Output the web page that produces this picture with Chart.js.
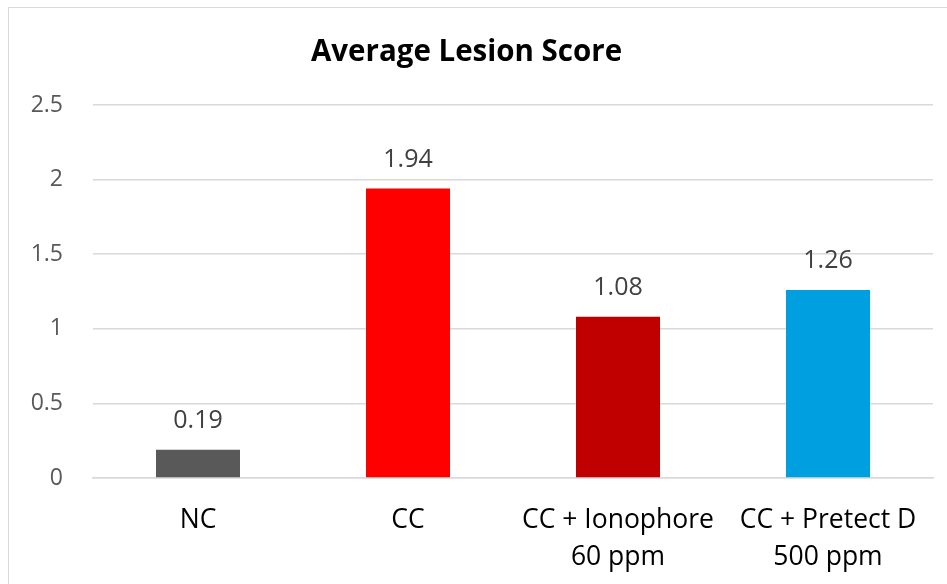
<!DOCTYPE html>
<html>
<head>
<meta charset="utf-8">
<script src="https://cdn.jsdelivr.net/npm/chart.js@4.4.1/dist/chart.umd.min.js"></script>
<style>
  html, body { margin: 0; padding: 0; background: #ffffff; }
  #wrap { position: relative; width: 947px; height: 584px; overflow: hidden; }
  #frame { position: absolute; left: 8px; top: 7px; width: 960px; height: 600px;
           border-left: 1.5px solid #d9d9d9; border-top: 1.5px solid #d9d9d9; box-sizing: border-box; }
  canvas { position: absolute; left: 0; top: 0; }
</style>
</head>
<body>
<div id="wrap">
  <div id="frame"></div>
  <canvas id="c" width="947" height="584"></canvas>
</div>
<script>
// ---- data ----
const categories = [["NC"], ["CC"], ["CC + Ionophore", "60 ppm"], ["CC + Pretect D", "500 ppm"]];
const scores = [0.19, 1.94, 1.08, 1.26];
const yTickValues = [0, 0.5, 1, 1.5, 2, 2.5];
const chartTitle = "Average Lesion Score";

// ---- styles ----
const barColors = ["#595959", "#ff0000", "#c00000", "#009fdf"];
const FONT = "'Open Sans', 'Liberation Sans', sans-serif";

const valueLabels = {
  id: 'valueLabels',
  afterDatasetsDraw(chart) {
    const ctx = chart.ctx;
    const meta = chart.getDatasetMeta(0);
    ctx.save();
    ctx.font = "25px " + FONT;
    ctx.fillStyle = "#404040";
    ctx.textAlign = "center";
    ctx.textBaseline = "middle";
    meta.data.forEach((bar, i) => {
      const v = chart.data.datasets[0].data[i];
      ctx.fillText(v.toFixed(2), bar.x, bar.y - 29);
    });
    ctx.restore();
  }
};

new Chart(document.getElementById('c'), {
  type: 'bar',
  data: {
    labels: categories,
    datasets: [{
      data: scores,
      backgroundColor: barColors,
      borderWidth: 0,
      categoryPercentage: 1.0,
      barPercentage: 0.4
    }]
  },
  options: {
    responsive: false,
    animation: false,
    devicePixelRatio: 1,
    layout: { padding: { left: 0, right: 14, top: 0, bottom: 0 } },
    plugins: {
      legend: { display: false },
      tooltip: { enabled: false },
      title: {
        display: true,
        text: chartTitle,
        color: "#000000",
        font: { family: FONT, size: 29.5, weight: 'bold', lineHeight: 1.2 },
        padding: { top: 35, bottom: 34.6 }
      }
    },
    scales: {
      x: {
        afterFit(scale) { scale.height = 106; },
        grid: { display: false },
        border: { display: true, color: "#d9d9d9", width: 1.5 },
        ticks: {
          color: "#000000",
          font: { family: FONT, size: 26.5, lineHeight: 1.4 },
          padding: 16,
          maxRotation: 0,
          autoSkip: false
        }
      },
      y: {
        min: 0,
        max: 2.5,
        afterFit(scale) { scale.width = 93; },
        afterBuildTicks(scale) { scale.ticks = yTickValues.map(v => ({ value: v })); },
        grid: { color: "#d9d9d9", lineWidth: 1.5, drawTicks: false },
        border: { display: false },
        ticks: {
          color: "#595959",
          font: { family: FONT, size: 23 },
          padding: 30,
          callback: (v) => String(v)
        }
      }
    }
  },
  plugins: [valueLabels]
});
</script>
</body>
</html>
